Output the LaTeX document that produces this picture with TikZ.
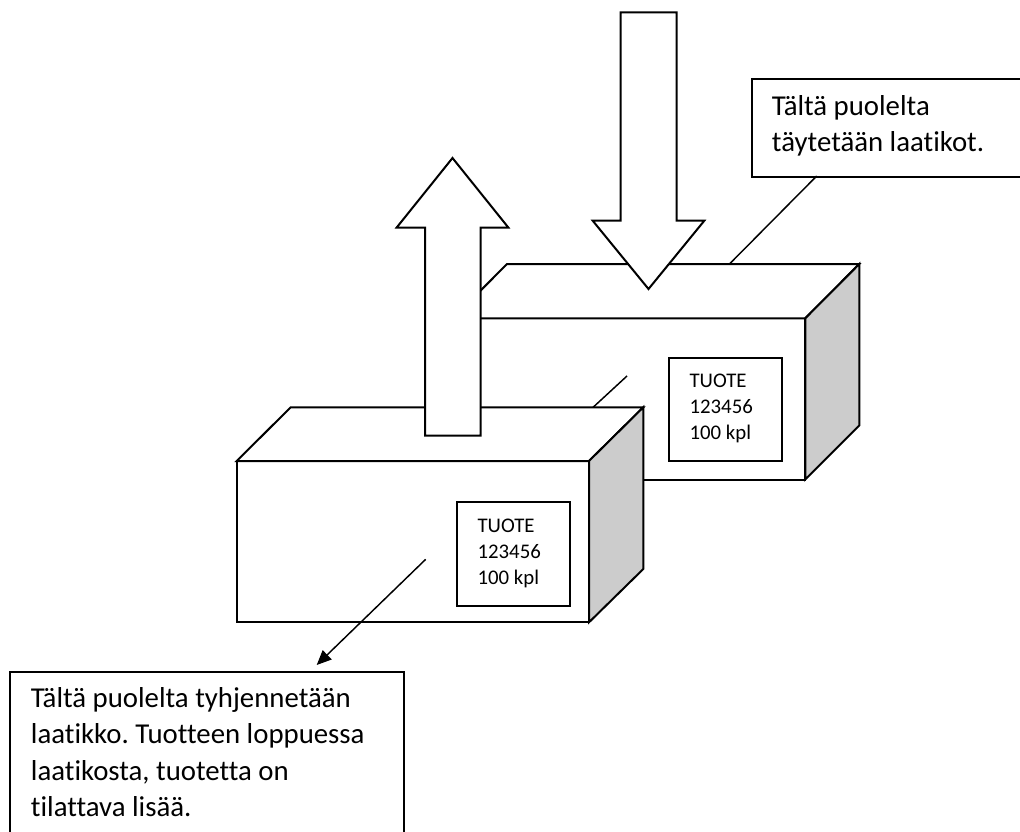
\documentclass[tikz,border=0pt]{standalone}
\usepackage{fontspec}
\setmainfont{Carlito}[Ligatures=CommonOff]
\usetikzlibrary{arrows.meta}
\frenchspacing
\begin{document}
\begin{tikzpicture}[x=0.75pt,y=-0.75pt,
  edge/.style={line width=1.5pt, line join=miter, draw=black},
  face/.style={edge, fill=white},
  side/.style={edge, fill=gray!40},
  blockarrow/.style={edge, fill=white},
  labelbox/.style={draw=black, line width=1.5pt, fill=white, inner sep=0pt,
    anchor=north west, minimum width=84.75pt, minimum height=77.5pt},
  notebox/.style={draw=black, line width=1.5pt, fill=white, inner sep=0pt, anchor=north west},
  % multi-line texts are placed by the baseline of their last line
  labeltext/.style={font=\fontsize{15.6pt}{19.4pt}\selectfont, align=left, inner sep=0pt, anchor=base west},
  notetext/.style={font=\fontsize{21.6pt}{27.2pt}\selectfont, align=left, inner sep=0pt, anchor=base west},
  leader/.style={line width=1.1pt, draw=black},
]
\useasboundingbox (0,0) rectangle (1020,831);
\clip (0,0) rectangle (1020,831);

% note about filling, upper right
\node[notebox, minimum width=209.5pt, minimum height=73.7pt] (fillnote) at (750.7,77.7) {};
\node[notetext] (filltext) at (771.7,151.7) {Tältä puolelta\\täytetään laatikot.};
\coordinate (fillfoot) at (816.7,176);
\coordinate (filltip) at (729,264.5);
\draw[leader] (fillfoot) -- (filltip);

% note about emptying, lower left
\node[notebox, minimum width=295.5pt, minimum height=130pt] (emptynote) at (9,671) {};
\node[notetext] (emptytext) at (30.7,816.5)
  {Tältä puolelta tyhjennetään\\laatikko. Tuotteen loppuessa\\laatikosta, tuotetta on\\tilattava lisää.};

% rear box
\draw[face] (453,318.3) rectangle (805.3,479.5);
\draw[face] (453,318.3) -- (507,264) -- (859.3,264) -- (805.3,318.3) -- cycle;
\draw[side] (805.3,318.3) -- (859.3,264) -- (859.3,425.5) -- (805.3,479.5) -- cycle;
\node[labelbox] (reartag) at (667.7,356.7) {};
\node[labeltext] (reartext) at (689.3,439) {TUOTE\\123456\\100 kpl};

% leader segment on the rear box face
\coordinate (rearmark) at (627,376);
\coordinate (rearmarkend) at (588,412);
\draw[leader] (rearmark) -- (rearmarkend);

% front box
\draw[face] (236.7,461) rectangle (589,622.3);
\draw[face] (236.7,461) -- (290.7,407.3) -- (643.3,407.3) -- (589,461) -- cycle;
\draw[side] (589,461) -- (643.3,407.3) -- (643.3,569) -- (589,622.3) -- cycle;
\node[labelbox, minimum height=78.2pt] (fronttag) at (456,500.7) {};
\node[labeltext] (fronttext) at (477.3,584) {TUOTE\\123456\\100 kpl};

% leader from the front box to the lower note
\coordinate (frontmark) at (425.7,559.3);
\coordinate (emptytip) at (316.7,665);
\draw[leader, -{Triangle[length=11pt,width=9.5pt]}] (frontmark) -- (emptytip);

% outgoing block arrow
\draw[blockarrow] (425,435.7) -- (425,227.5) -- (396.7,227.5) -- (452.5,158)
  -- (508.3,227.5) -- (480.5,227.5) -- (480.5,435.7) -- cycle;

% incoming block arrow
\draw[blockarrow] (620.7,12.3) -- (676.7,12.3) -- (676.7,220.7) -- (704.3,220.7)
  -- (648.5,289) -- (592.7,220.7) -- (620.7,220.7) -- cycle;
\end{tikzpicture}
\end{document}
